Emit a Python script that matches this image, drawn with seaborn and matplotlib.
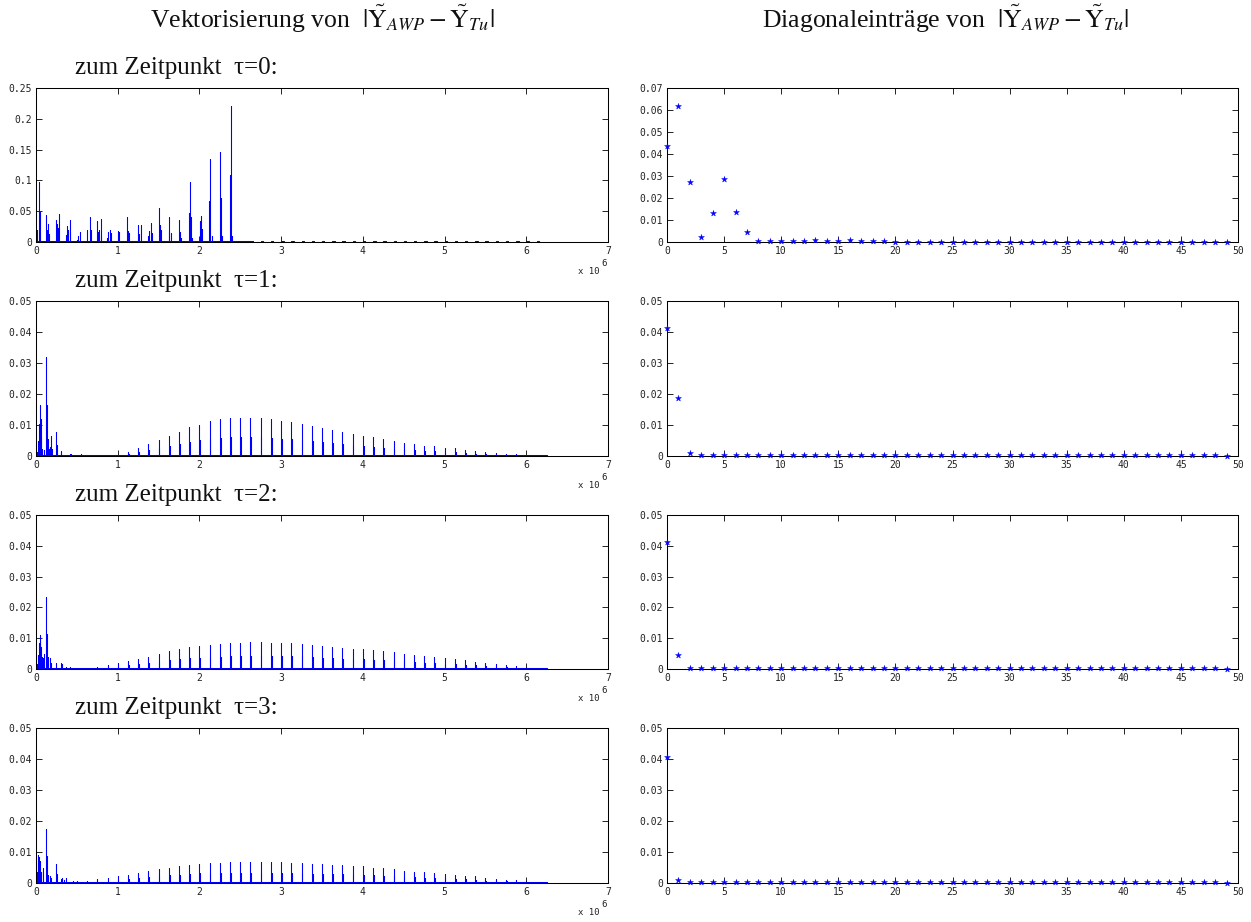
import matplotlib
matplotlib.use("Agg")
import matplotlib.pyplot as plt
import seaborn as sns
import pandas as pd
from matplotlib.ticker import MultipleLocator, FuncFormatter

sns.set_theme(style="white")
plt.rcParams["font.family"] = ["Liberation Serif", "DejaVu Serif"]
plt.rcParams["mathtext.fontset"] = "stix"
plt.rcParams["path.simplify"] = False

# ---------------------------------------------------------------------------
# Vectorised |Y_AWP - Y_Tu| (x in units of 10^6 entries)
# ---------------------------------------------------------------------------
# tau = 0: irregular spikes up to 2.4e6
vec0_x = [0.008, 0.033, 0.049, 0.119, 0.131, 0.152, 0.164, 0.242, 0.258, 0.275,
          0.287, 0.365, 0.377, 0.393, 0.410, 0.418, 0.500, 0.520, 0.541, 0.623,
          0.656, 0.672, 0.746, 0.758, 0.775, 0.791, 0.799, 0.869, 0.885, 0.902,
          0.918, 1.000, 1.020, 1.115, 1.127, 1.143, 1.246, 1.266, 1.283, 1.369,
          1.381, 1.402, 1.414, 1.500, 1.512, 1.529, 1.623, 1.631, 1.648, 1.746,
          1.762, 1.779, 1.877, 1.885, 1.898, 1.910, 2.008, 2.016, 2.029, 2.123,
          2.135, 2.148, 2.254, 2.266, 2.279, 2.377, 2.389, 2.402]
vec0_h = [0.020, 0.097, 0.049, 0.044, 0.020, 0.029, 0.0125, 0.036, 0.030, 0.023,
          0.046, 0.011, 0.0255, 0.020, 0.036, 0.017, 0.004, 0.010, 0.017, 0.020,
          0.041, 0.020, 0.034, 0.017, 0.020, 0.037, 0.009, 0.007, 0.016, 0.020,
          0.015, 0.018, 0.016, 0.040, 0.018, 0.015, 0.027, 0.0125, 0.027, 0.009,
          0.018, 0.031, 0.015, 0.056, 0.027, 0.020, 0.018, 0.040, 0.015, 0.035,
          0.017, 0.007, 0.047, 0.098, 0.041, 0.007, 0.034, 0.042, 0.021, 0.066,
          0.134, 0.009, 0.146, 0.072, 0.0098, 0.109, 0.221, 0.009]
# tiny residual blocks after the main spikes (block indices)
vec0_small_blocks = list(range(22, 50))

# tau = 1, 2, 3: dense start region, then one spike pair per diagonal block
early1_x = [0.008, 0.025, 0.040, 0.049, 0.057, 0.066, 0.078, 0.094, 0.119, 0.131,
            0.148, 0.160, 0.172, 0.180, 0.193, 0.242, 0.254, 0.300, 0.311, 0.410,
            0.426, 0.550, 0.563, 0.690]
early1_h = [0.0013, 0.0049, 0.0104, 0.0163, 0.0118, 0.0058, 0.0024, 0.0019, 0.0320, 0.0163,
            0.0055, 0.0024, 0.0030, 0.0063, 0.0024, 0.0077, 0.0036, 0.0016, 0.0010, 0.0008,
            0.0006, 0.0008, 0.0004, 0.0004]
early2_x = [0.008, 0.025, 0.035, 0.045, 0.055, 0.065, 0.075, 0.085, 0.100, 0.119,
            0.131, 0.150, 0.170, 0.180, 0.242, 0.300, 0.318, 0.370, 0.420, 0.500,
            0.625, 0.750, 0.875]
early2_h = [0.0015, 0.0045, 0.0085, 0.0110, 0.0095, 0.0070, 0.0040, 0.0035, 0.0050, 0.0233,
            0.0115, 0.0040, 0.0035, 0.0020, 0.0021, 0.0020, 0.0015, 0.0008, 0.0006, 0.0004,
            0.0004, 0.0005, 0.0012]
early3_x = [0.008, 0.020, 0.030, 0.040, 0.050, 0.060, 0.080, 0.090, 0.119, 0.131,
            0.150, 0.170, 0.180, 0.242, 0.260, 0.300, 0.318, 0.340, 0.370, 0.450,
            0.500, 0.625, 0.750, 0.875]
early3_h = [0.0035, 0.0075, 0.0090, 0.0085, 0.0070, 0.0035, 0.0050, 0.0035, 0.0175, 0.0088,
            0.0025, 0.0022, 0.0015, 0.0060, 0.0030, 0.0012, 0.0015, 0.0010, 0.0016, 0.0008,
            0.0007, 0.0007, 0.0012, 0.0015]

blocks = list(range(8, 50))  # block index k -> x = k * block_len
block_len = 0.125

main1 = [0.0003, 0.0014, 0.0025, 0.0038, 0.0052, 0.0066, 0.0078, 0.0093,
         0.0101, 0.0113, 0.0119, 0.0121, 0.0124, 0.0124, 0.0122, 0.0119,
         0.0113, 0.0110, 0.0104, 0.0096, 0.0090, 0.0084, 0.0077, 0.0071,
         0.0066, 0.0060, 0.0055, 0.0047, 0.0042, 0.0038, 0.0033, 0.0031,
         0.0027, 0.0025, 0.0019, 0.0015, 0.0013, 0.0010, 0.0007, 0.0005,
         0.0004, 0.0003]
side1 = [0.0002, 0.0007, 0.0013, 0.0019, 0.0026, 0.0033, 0.0039, 0.0046,
         0.0050, 0.0056, 0.0059, 0.0060, 0.0062, 0.0062, 0.0061, 0.0059,
         0.0056, 0.0055, 0.0052, 0.0048, 0.0045, 0.0042, 0.0038, 0.0035,
         0.0033, 0.0030, 0.0027, 0.0023, 0.0021, 0.0019, 0.0016, 0.0015,
         0.0013, 0.0012, 0.0009, 0.0007, 0.0006, 0.0005, 0.0003, 0.0002,
         0.0002, 0.0001]
main2 = [0.0020, 0.0027, 0.0032, 0.0040, 0.0049, 0.0058, 0.0064, 0.0070,
         0.0075, 0.0078, 0.0080, 0.0084, 0.0084, 0.0087, 0.0087, 0.0085,
         0.0084, 0.0083, 0.0082, 0.0078, 0.0075, 0.0072, 0.0068, 0.0066,
         0.0064, 0.0061, 0.0057, 0.0054, 0.0050, 0.0047, 0.0043, 0.0038,
         0.0035, 0.0032, 0.0028, 0.0024, 0.0020, 0.0017, 0.0013, 0.0009,
         0.0008, 0.0002]
side2 = [0.0010, 0.0013, 0.0016, 0.0020, 0.0024, 0.0029, 0.0032, 0.0035,
         0.0037, 0.0039, 0.0040, 0.0042, 0.0042, 0.0043, 0.0043, 0.0042,
         0.0042, 0.0041, 0.0041, 0.0039, 0.0037, 0.0036, 0.0034, 0.0033,
         0.0032, 0.0030, 0.0028, 0.0027, 0.0025, 0.0023, 0.0021, 0.0019,
         0.0017, 0.0016, 0.0014, 0.0012, 0.0010, 0.0008, 0.0006, 0.0004,
         0.0004, 0.0001]
main3 = [0.0021, 0.0027, 0.0033, 0.0038, 0.0044, 0.0050, 0.0054, 0.0059,
         0.0062, 0.0065, 0.0065, 0.0067, 0.0067, 0.0067, 0.0067, 0.0067,
         0.0067, 0.0065, 0.0063, 0.0061, 0.0061, 0.0059, 0.0059, 0.0056,
         0.0054, 0.0050, 0.0047, 0.0044, 0.0040, 0.0037, 0.0035, 0.0032,
         0.0030, 0.0027, 0.0024, 0.0021, 0.0016, 0.0014, 0.0011, 0.0009,
         0.0008, 0.0002]
side3 = [0.0010, 0.0013, 0.0016, 0.0019, 0.0022, 0.0025, 0.0027, 0.0029,
         0.0031, 0.0032, 0.0032, 0.0033, 0.0033, 0.0033, 0.0033, 0.0033,
         0.0033, 0.0032, 0.0031, 0.0030, 0.0030, 0.0029, 0.0029, 0.0028,
         0.0027, 0.0025, 0.0023, 0.0022, 0.0020, 0.0018, 0.0017, 0.0016,
         0.0015, 0.0013, 0.0012, 0.0010, 0.0008, 0.0007, 0.0005, 0.0004,
         0.0004, 0.0001]

# ---------------------------------------------------------------------------
# Diagonal entries of |Y_AWP - Y_Tu| (50 entries)
# ---------------------------------------------------------------------------
diag_idx = list(range(50))
diag0 = [0.0435, 0.0617, 0.0273, 0.0024, 0.0132, 0.0285, 0.0136, 0.0045, 0.0003, 0.0003,
         0.0006, 0.0003, 0.0003, 0.0007, 0.0003, 0.0003, 0.0007, 0.0003, 0.0003, 0.0003,
         0.0001, 0.0001, 0.0001, 0.0001, 0.0001, 0.0001, 0.0001, 0.0001, 0.0001, 0.0001,
         0.0001, 0.0001, 0.0001, 0.0001, 0.0001, 0.0001, 0.0001, 0.0001, 0.0001, 0.0001,
         0.0001, 0.0001, 0.0001, 0.0001, 0.0001, 0.0001, 0.0001, 0.0001, 0.0001, 0.0001]
diag1 = [0.0414, 0.0187, 0.0009, 0.0002, 0.0002, 0.0002, 0.0002, 0.0002, 0.0002, 0.0002,
         0.0002, 0.0002, 0.0002, 0.0002, 0.0002, 0.0002, 0.0002, 0.0002, 0.0002, 0.0002,
         0.0002, 0.0002, 0.0002, 0.0002, 0.0002, 0.0002, 0.0002, 0.0002, 0.0002, 0.0002,
         0.0002, 0.0002, 0.0002, 0.0002, 0.0002, 0.0002, 0.0002, 0.0002, 0.0002, 0.0002,
         0.0002, 0.0002, 0.0002, 0.0002, 0.0002, 0.0002, 0.0002, 0.0002, 0.0002, 0.0000]
diag2 = [0.0412, 0.0045, 0.0002, 0.0002, 0.0002, 0.0002, 0.0002, 0.0002, 0.0002, 0.0002,
         0.0002, 0.0002, 0.0002, 0.0002, 0.0002, 0.0002, 0.0002, 0.0002, 0.0002, 0.0002,
         0.0002, 0.0002, 0.0002, 0.0002, 0.0002, 0.0002, 0.0002, 0.0002, 0.0002, 0.0002,
         0.0002, 0.0002, 0.0002, 0.0002, 0.0002, 0.0002, 0.0002, 0.0002, 0.0002, 0.0002,
         0.0002, 0.0002, 0.0002, 0.0002, 0.0002, 0.0002, 0.0002, 0.0002, 0.0002, 0.0000]
diag3 = [0.0405, 0.0011, 0.0002, 0.0002, 0.0002, 0.0002, 0.0002, 0.0002, 0.0002, 0.0002,
         0.0002, 0.0002, 0.0002, 0.0002, 0.0002, 0.0002, 0.0002, 0.0002, 0.0002, 0.0002,
         0.0002, 0.0002, 0.0002, 0.0002, 0.0002, 0.0002, 0.0002, 0.0002, 0.0002, 0.0002,
         0.0002, 0.0002, 0.0002, 0.0002, 0.0002, 0.0002, 0.0002, 0.0002, 0.0002, 0.0002,
         0.0002, 0.0002, 0.0002, 0.0002, 0.0002, 0.0002, 0.0002, 0.0002, 0.0002, 0.0000]

taus = ["0", "1", "2", "3"]
left_ylims = [0.25, 0.05, 0.05, 0.05]
left_ysteps = [0.05, 0.01, 0.01, 0.01]
right_ylims = [0.07, 0.05, 0.05, 0.05]


def spike_path(xs, hs, base, end):
    """Polyline drawing each spike as a vertical stroke on a thin baseline."""
    px, py = [0.0], [base]
    for x, h in sorted(zip(xs, hs)):
        px += [x, x, x]
        py += [base, h, base]
    px += [end, end]
    py += [base, 0.0]
    return px, py


def fmt(v, _pos):
    if abs(v) < 1e-12:
        return "0"
    return f"{v:g}"


def style_axes(ax, xmax, xstep, ymax, ystep):
    ax.set_xlim(0, xmax)
    ax.set_ylim(0, ymax)
    ax.xaxis.set_major_locator(MultipleLocator(xstep))
    ax.yaxis.set_major_locator(MultipleLocator(ystep))
    ax.xaxis.set_major_formatter(FuncFormatter(fmt))
    ax.yaxis.set_major_formatter(FuncFormatter(fmt))
    ax.tick_params(direction="in", length=4, width=0.6, top=True, right=True,
                   bottom=True, left=True, labelsize=7, pad=3, colors="black")
    for lab in ax.get_xticklabels() + ax.get_yticklabels():
        lab.set_fontfamily("DejaVu Sans Mono")
        lab.set_color("#222222")
    for s in ax.spines.values():
        s.set_linewidth(0.75)
        s.set_color("black")
    ax.set_xlabel("")
    ax.set_ylabel("")
    ax.grid(False)


fig = plt.figure(figsize=(12.51, 9.22), dpi=100)
W, H = 1251.0, 922.0
row_bottoms = [242, 456, 669, 883]
row_tops = [88, 301, 515, 728]

# assemble the four vectorised series
vec_paths = []
px, py = spike_path(vec0_x, vec0_h, 0.001, 2.65)
dash_level = 0.0012
for k in vec0_small_blocks:
    d = k * block_len
    px += [d, d, d + 0.03, d + 0.03]
    py += [0.0, dash_level, dash_level, 0.0]
vec_paths.append((px, py))
for ex, eh, mn, sd in [(early1_x, early1_h, main1, side1),
                       (early2_x, early2_h, main2, side2),
                       (early3_x, early3_h, main3, side3)]:
    xs = list(ex) + [k * block_len for k in blocks] + [k * block_len + 0.009 for k in blocks]
    hs = list(eh) + list(mn) + list(sd)
    vec_paths.append(spike_path(xs, hs, 0.00025, 6.25))

diags = [diag0, diag1, diag2, diag3]

for r in range(4):
    bottom = 1 - row_bottoms[r] / H
    height = (row_bottoms[r] - row_tops[r]) / H

    # left: vectorised difference
    axl = fig.add_axes([36 / W, bottom, 572 / W, height])
    px, py = vec_paths[r]
    df = pd.DataFrame({"x": px, "y": py})
    sns.lineplot(data=df, x="x", y="y", sort=False, estimator=None,
                 color="#0000ff", linewidth=0.75, ax=axl)
    style_axes(axl, 7, 1, left_ylims[r], left_ysteps[r])
    axl.annotate("x 10", xy=(1, 0), xycoords="axes fraction", xytext=(-6, -21),
                 textcoords="offset points", ha="right", va="center",
                 fontsize=6.5, family="DejaVu Sans Mono", color="#222222")
    axl.annotate("6", xy=(1, 0), xycoords="axes fraction", xytext=(-3, -15.5),
                 textcoords="offset points", ha="center", va="center",
                 fontsize=6.5, family="DejaVu Sans Mono", color="#222222")

    # right: diagonal entries
    axr = fig.add_axes([667 / W, bottom, 571 / W, height])
    dd = pd.DataFrame({"i": diag_idx, "v": diags[r]})
    sns.scatterplot(data=dd, x="i", y="v", marker="*", s=20, color="#0000ff",
                    edgecolor="#0000ff", linewidth=0.3, ax=axr, clip_on=False,
                    zorder=3)
    style_axes(axr, 50, 5, right_ylims[r], 0.01)

    # row caption
    fig.text(75 / W, 1 - (row_tops[r] - 20) / H,
             "zum Zeitpunkt  τ=%s:" % taus[r],
             fontsize=18, ha="left", va="center", color="#111111")

yexpr = r"$|\tilde{\mathrm{Y}}_{AWP}-\tilde{\mathrm{Y}}_{Tu}|$"
fig.text(322 / W, 1 - 19 / H, "Vektorisierung von  " + yexpr,
         fontsize=18.5, ha="center", va="center", color="#111111")
fig.text(946 / W, 1 - 19 / H, "Diagonaleinträge von  " + yexpr,
         fontsize=18.5, ha="center", va="center", color="#111111")

fig.savefig("out.png", dpi=100, facecolor="white")
